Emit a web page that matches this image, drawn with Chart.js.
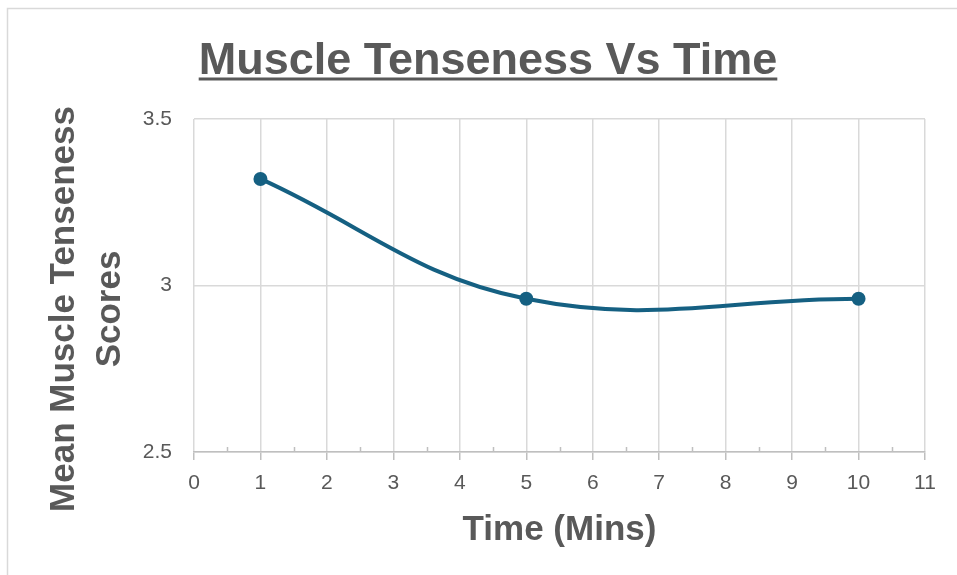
<!DOCTYPE html>
<html>
<head>
<meta charset="utf-8">
<script src="https://cdn.jsdelivr.net/npm/chart.js@4"></script>
<style>
  html, body { margin: 0; padding: 0; background: #fff; }
  #wrap { position: relative; width: 957px; height: 575px; }
</style>
</head>
<body>
<div id="wrap"><canvas id="lineChart"></canvas></div>
<script>
const timeMins = [1, 5, 10];
const tenseness = [3.32, 2.96, 2.96];
const xTicks = [0, 1, 2, 3, 4, 5, 6, 7, 8, 9, 10, 11];
const yTicks = [2.5, 3, 3.5];

const chartTitle = 'Muscle Tenseness Vs Time';
const xTitle = 'Time (Mins)';
const yTitle = ['Mean Muscle Tenseness', 'Scores'];

const textColor = '#595959';
const lineColor = '#156082';
const fontFamily = '"Liberation Sans", Arial, sans-serif';

// frame, title with underline, minor ticks and the two-line y title
const extras = {
  id: 'extras',
  beforeDraw(chart) {
    const ctx = chart.ctx;
    ctx.save();
    ctx.strokeStyle = '#d9d9d9';
    ctx.lineWidth = 1.5;
    ctx.strokeRect(7.5, 8.5, 1000, 700);
    ctx.restore();
  },
  afterDraw(chart) {
    const ctx = chart.ctx;
    const area = chart.chartArea;
    const x = chart.scales.x;

    // title + underline
    ctx.save();
    ctx.font = 'bold 45px ' + fontFamily;
    ctx.fillStyle = textColor;
    ctx.textAlign = 'center';
    ctx.textBaseline = 'alphabetic';
    const cx = 488;
    ctx.fillText(chartTitle, cx, 74);
    const w = ctx.measureText(chartTitle).width;
    ctx.strokeStyle = textColor;
    ctx.lineWidth = 3;
    ctx.beginPath();
    ctx.moveTo(cx - w / 2, 79);
    ctx.lineTo(cx + w / 2, 79);
    ctx.stroke();

    // minor ticks at half steps
    ctx.strokeStyle = '#bfbfbf';
    ctx.lineWidth = 1.5;
    for (let i = 0; i < xTicks.length - 1; i++) {
      const px = Math.round(x.getPixelForValue(xTicks[i] + 0.5)) + 0.5;
      ctx.beginPath();
      ctx.moveTo(px, area.bottom - 5);
      ctx.lineTo(px, area.bottom);
      ctx.stroke();
    }

    // y axis title, two lines
    ctx.font = 'bold 35px ' + fontFamily;
    ctx.textBaseline = 'middle';
    ctx.translate(0, 309);
    ctx.rotate(-Math.PI / 2);
    ctx.fillText(yTitle[0], 0, 64);
    ctx.fillText(yTitle[1], 0, 110);
    ctx.restore();
  }
};

new Chart(document.getElementById('lineChart'), {
  type: 'scatter',
  data: {
    datasets: [{
      data: timeMins.map((t, i) => ({ x: t, y: tenseness[i] })),
      showLine: true,
      tension: 0.4,
      borderColor: lineColor,
      backgroundColor: lineColor,
      borderWidth: 4,
      pointRadius: 7,
      pointBorderWidth: 0,
      pointHoverRadius: 7,
    }],
  },
  options: {
    responsive: true,
    maintainAspectRatio: false,
    animation: false,
    layout: { padding: { left: 0, right: 32, top: 119, bottom: 0 } },
    plugins: {
      legend: { display: false },
      tooltip: { enabled: false },
      title: { display: false },
    },
    scales: {
      x: {
        type: 'linear',
        min: xTicks[0],
        max: xTicks[xTicks.length - 1],
        afterBuildTicks: s => { s.ticks = xTicks.map(v => ({ value: v })); },
        afterFit: s => { s.height = 123; },
        ticks: {
          color: textColor,
          font: { family: fontFamily, size: 21 },
          padding: 11,
          maxRotation: 0,
        },
        grid: { color: '#d9d9d9', lineWidth: 1.5, tickLength: 8, tickColor: '#bfbfbf' },
        border: { color: '#bfbfbf', width: 1.5 },
        title: {
          display: true,
          text: xTitle,
          color: textColor,
          font: { family: fontFamily, size: 35, weight: 'bold' },
          padding: { top: 0, bottom: 24 },
        },
      },
      y: {
        min: yTicks[0],
        max: yTicks[yTicks.length - 1],
        afterBuildTicks: s => { s.ticks = yTicks.map(v => ({ value: v })); },
        afterFit: s => { s.width = 194; },
        ticks: {
          color: textColor,
          font: { family: fontFamily, size: 21 },
          padding: 22,
          callback: v => String(v),
        },
        grid: { color: '#d9d9d9', lineWidth: 1.5, drawTicks: false },
        border: { display: false },
      },
    },
  },
  plugins: [extras],
});
</script>
</body>
</html>
